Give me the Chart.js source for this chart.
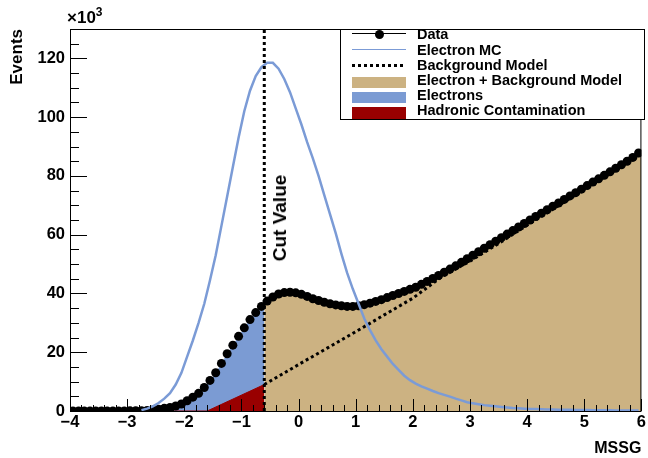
<!DOCTYPE html>
<html>
<head>
<meta charset="utf-8">
<script src="https://cdn.jsdelivr.net/npm/chart.js@4.4.0/dist/chart.umd.min.js"></script>
<style>
  html, body { margin: 0; padding: 0; background: #fff; }
  #wrap { position: relative; width: 648px; height: 458px; font-family: "Liberation Sans", Arial, sans-serif; font-weight: bold; color: #000; }
  #chart { position: absolute; left: 0; top: 0; }
  .abs { position: absolute; white-space: nowrap; }
  .legend-box { left: 340px; top: 29px; width: 303px; height: 89px; border: 1px solid #000; background: #fff; }
  .leg-text { left: 417px; font-size: 14.5px; line-height: 16px; }
  .sym { position: absolute; left: 352px; width: 54px; }
</style>
</head>
<body>
<div id="wrap">
  <canvas id="chart" width="648" height="458"></canvas>

  <div class="abs" style="left:67px; top:9px; font-size:17px; line-height:17px;">×10<span style="font-size:12px; position:relative; top:-7px;">3</span></div>

  <div class="abs" style="left:280px; top:218px; font-size:19px; transform: translate(-50%, -50%) rotate(-90deg);">Cut Value</div>

  <!-- legenda -->
  <div class="abs legend-box"></div>

  <div class="sym" style="top:33px; height:1px; background:#000;"></div>
  <div class="sym" style="top:30px; left:375px; width:9px; height:9px; border-radius:50%; background:#000;"></div>
  <div class="abs leg-text" style="top:26px;">Data</div>

  <div class="sym" style="top:49px; height:1px; background:#7b9bd6;"></div>
  <div class="abs leg-text" style="top:42px;">Electron MC</div>

  <div class="sym" style="top:64px; height:3px; background: repeating-linear-gradient(90deg, #000 0 3px, transparent 3px 6px);"></div>
  <div class="abs leg-text" style="top:57px;">Background Model</div>

  <div class="sym" style="top:77px; height:11px; background:#ccb282;"></div>
  <div class="abs leg-text" style="top:72px;">Electron + Background Model</div>

  <div class="sym" style="top:92px; height:11px; background:#7b9bd3;"></div>
  <div class="abs leg-text" style="top:87px;">Electrons</div>

  <div class="sym" style="top:107px; height:12px; background:#990000;"></div>
  <div class="abs leg-text" style="top:102px;">Hadronic Contamination</div>
</div>

<script>
// eixo x: MSSG, bins de 0.1 entre -4 e 6
const xMin = -4;
const xMax = 6;
const binWidth = 0.1;
const yMax = 130; // em milhares (x10^3)
const cutValue = -0.6;

const xTicks = [-4, -3, -2, -1, 0, 1, 2, 3, 4, 5, 6];
const yTicks = [0, 20, 40, 60, 80, 100, 120];

// Data (x10^3 eventos), um valor por bin
const dataCounts = [
  0, 0, 0, 0, 0, 0, 0, 0, 0, 0,
  0.05, 0.1, 0.1, 0.2, 0.3, 0.6, 0.9, 1.2, 1.7, 2.4,
  3.5, 4.7, 6.0, 8.0, 10.4, 13.0, 16.2, 19.5, 22.4, 25.4,
  28.3, 31.1, 33.5, 35.6, 37.4, 38.8, 39.8, 40.3, 40.4, 40.2,
  39.7, 39.0, 38.2, 37.6, 37.0, 36.5, 36.1, 35.8, 35.6, 35.6,
  35.8, 36.2, 36.7, 37.3, 37.9, 38.6, 39.3, 40.0, 40.7, 41.4,
  42.1, 43.1, 44.1, 45.1, 46.1, 47.2, 48.3, 49.4, 50.6, 51.8,
  53.0, 54.2, 55.4, 56.6, 57.8, 59.0, 60.2, 61.4, 62.6, 63.8,
  65.0, 66.2, 67.3, 68.5, 69.7, 70.8, 72.0, 73.2, 74.3, 75.5,
  76.7, 77.9, 79.0, 80.2, 81.4, 82.6, 83.8, 85.0, 86.3, 87.8
];
const dataAtCut = 36.5;

// Electron MC (x10^3), bins vazios = null
const mcCounts = [
  null, null, null, null, null, null, null, null, null, null,
  null, null, 0.3, 0.8, 1.6, 2.7, 4.2, 6.1, 9.0, 13.0,
  18.5, 24.0, 30.0, 36.5, 44.5, 53.0, 63.0, 73.0, 83.0, 93.0,
  102.0, 109.0, 114.0, 117.0, 118.5, 118.5, 116.5, 113.0, 108.5, 103.0,
  97.5, 91.5, 86.0, 80.0, 73.5, 67.0, 60.5, 53.5, 47.0, 41.5,
  36.5, 31.5, 27.5, 24.0, 21.0, 18.5, 16.0, 14.0, 12.0, 10.5,
  9.3, 8.4, 7.6, 6.8, 6.1, 5.5, 4.9, 4.2, 3.6, 3.0,
  2.6, 2.3, 2.0, 1.8, 1.6, 1.4, 1.2, 1.0, 0.9, 0.8,
  0.7, 0.65, 0.6, 0.55, 0.5, 0.45, 0.42, 0.4, 0.36, 0.33,
  0.3, 0.28, 0.26, 0.24, 0.22, 0.2, 0.18, 0.16, 0.15, 0.14
];

// Background Model (linha pontilhada)
const bgX = [-0.6, 0.0, 0.5, 1.0, 1.5, 2.0, 2.5, 3.0, 3.5, 4.0, 4.5, 5.0, 5.5, 6.0];
const bgY = [9.0, 15.8, 21.4, 27.0, 32.7, 38.4, 45.6, 51.0, 57.0, 63.2, 69.3, 75.4, 81.4, 87.6];

// Hadronic Contamination (abaixo do corte)
const hadX = [-4.0, -1.6, -0.6];
const hadY = [0, 0, 9.0];

const CORES = {
  tan: "#ccb282",
  azulFill: "#7b9bd3",
  azulLinha: "#7b9bd6",
  vermelho: "#990000"
};

const binCenters = dataCounts.map((_, i) => xMin + binWidth * (i + 0.5));
const pontosData = binCenters.map((x, i) => ({ x, y: dataCounts[i] }));
const pontosMC = binCenters.map((x, i) => ({ x, y: mcCounts[i] }));

const fillAzul = [{ x: xMin, y: dataCounts[0] }]
  .concat(pontosData.filter(p => p.x < cutValue))
  .concat([{ x: cutValue, y: dataAtCut }]);

const fillTan = [{ x: cutValue, y: dataAtCut }]
  .concat(pontosData.filter(p => p.x > cutValue))
  .concat([{ x: xMax, y: dataCounts[dataCounts.length - 1] }]);

const pontosBg = bgX.map((x, i) => ({ x, y: bgY[i] }));
const pontosHad = hadX.map((x, i) => ({ x, y: hadY[i] }));

// moldura + ticks para dentro, estilo ROOT
const molduraTicks = {
  id: "molduraTicks",
  afterDatasetsDraw(chart) {
    const { ctx, chartArea: a, scales: { x, y } } = chart;
    ctx.save();
    ctx.strokeStyle = "#000";
    ctx.lineWidth = 1;
    ctx.beginPath();
    for (let i = 0; i <= 50; i++) {
      const px = Math.round(x.getPixelForValue(xMin + i * 0.2)) + 0.5;
      const len = i % 5 === 0 ? 12 : 6;
      ctx.moveTo(px, a.bottom);
      ctx.lineTo(px, a.bottom - len);
    }
    for (let i = 0; i * 5 <= yMax; i++) {
      const py = Math.round(y.getPixelForValue(i * 5)) + 0.5;
      const len = i % 4 === 0 ? 17 : 9;
      ctx.moveTo(a.left, py);
      ctx.lineTo(a.left + len, py);
    }
    ctx.stroke();
    ctx.strokeRect(a.left + 0.5, a.top + 0.5, a.right - a.left - 1, a.bottom - a.top);
    ctx.restore();
  }
};

Chart.defaults.font.family = "'Liberation Sans', Arial, sans-serif";
Chart.defaults.font.weight = "bold";
Chart.defaults.color = "#000";

const ctx = document.getElementById("chart").getContext("2d");

new Chart(ctx, {
  type: "line",
  data: {
    datasets: [
      {
        label: "Data",
        data: pontosData,
        showLine: false,
        pointRadius: 4.5,
        pointBackgroundColor: "#000",
        pointBorderWidth: 0,
        order: 2
      },
      {
        label: "Electron MC",
        data: pontosMC,
        borderColor: CORES.azulLinha,
        borderWidth: 2.5,
        pointRadius: 0,
        order: 1
      },
      {
        label: "Cut",
        data: [{ x: cutValue, y: 0 }, { x: cutValue, y: yMax }],
        borderColor: "#000",
        borderWidth: 3,
        borderDash: [3, 3],
        pointRadius: 0,
        order: 0
      },
      {
        label: "Background Model",
        data: pontosBg,
        borderColor: "#000",
        borderWidth: 3,
        borderDash: [3, 3],
        pointRadius: 0,
        order: 3
      },
      {
        label: "Hadronic Contamination",
        data: pontosHad,
        borderColor: CORES.vermelho,
        borderWidth: 1,
        backgroundColor: CORES.vermelho,
        fill: "origin",
        pointRadius: 0,
        order: 4
      },
      {
        label: "Electrons",
        data: fillAzul,
        borderWidth: 0,
        backgroundColor: CORES.azulFill,
        fill: "origin",
        pointRadius: 0,
        order: 5
      },
      {
        label: "Electron + Background Model",
        data: fillTan,
        borderWidth: 0,
        backgroundColor: CORES.tan,
        fill: "origin",
        pointRadius: 0,
        order: 6
      }
    ]
  },
  options: {
    responsive: false,
    animation: false,
    devicePixelRatio: 1,
    layout: { padding: { top: 29, right: 4, left: 0, bottom: 0 } },
    plugins: {
      legend: { display: false },
      tooltip: { enabled: false }
    },
    elements: { line: { tension: 0 } },
    scales: {
      x: {
        type: "linear",
        min: xMin,
        max: xMax,
        afterFit: s => { s.height = 47; },
        afterBuildTicks: s => { s.ticks = xTicks.map(v => ({ value: v })); },
        grid: { display: false, drawTicks: false },
        border: { display: false },
        ticks: {
          autoSkip: false,
          maxRotation: 0,
          padding: 2,
          font: { size: 16.5, weight: "bold" },
          callback: v => (v < 0 ? "\u2212" + Math.abs(v) : String(v))
        },
        title: {
          display: true,
          text: "MSSG",
          align: "end",
          padding: { top: 0, bottom: 0 },
          font: { size: 16, weight: "bold" }
        }
      },
      y: {
        type: "linear",
        min: 0,
        max: yMax,
        afterFit: s => { s.width = 70; },
        afterBuildTicks: s => { s.ticks = yTicks.map(v => ({ value: v })); },
        grid: { display: false, drawTicks: false },
        border: { display: false },
        ticks: {
          padding: 5,
          font: { size: 16.5, weight: "bold" }
        },
        title: {
          display: true,
          text: "Events",
          align: "end",
          padding: { top: 7, bottom: 0 },
          font: { size: 17, weight: "bold" }
        }
      }
    }
  },
  plugins: [molduraTicks]
});
</script>
</body>
</html>
